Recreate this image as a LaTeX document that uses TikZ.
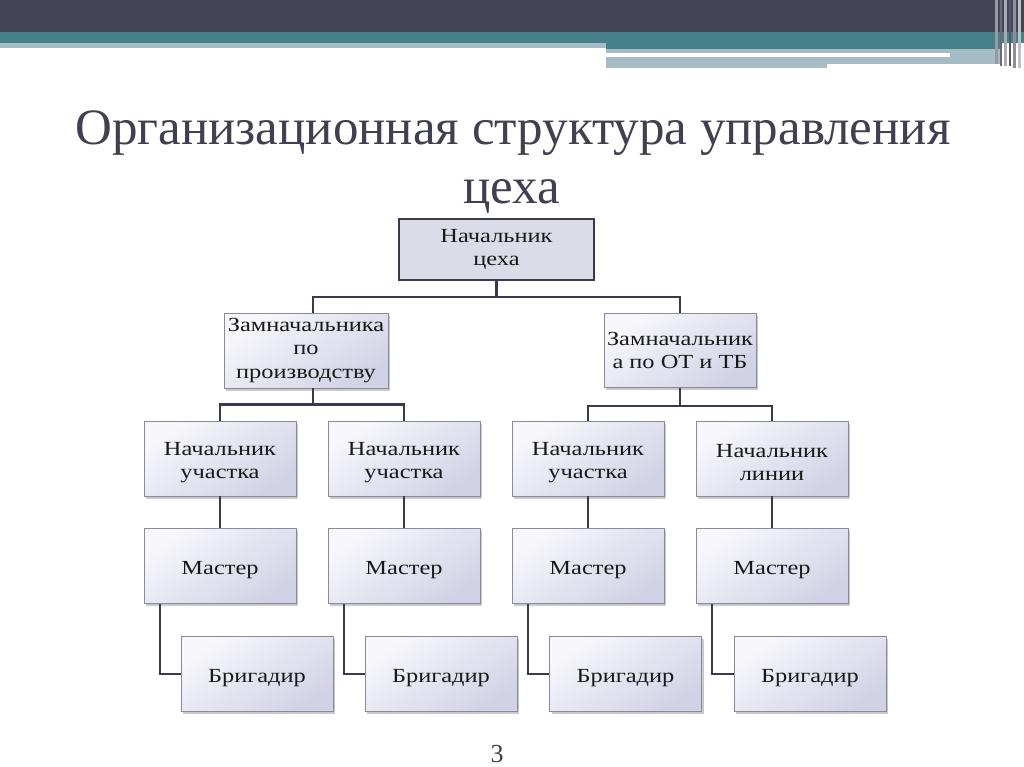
\documentclass[tikz,border=0pt]{standalone}
\usepackage{fontspec}
\setmainfont{Liberation Serif}
\newfontfamily\boxfont[FakeStretch=1.22]{Liberation Serif}
\usetikzlibrary{shadows}
\definecolor{hdark}{HTML}{45455A}
\definecolor{hteal}{HTML}{46808A}
\definecolor{hlight}{HTML}{A6BCC4}
\definecolor{titlec}{HTML}{404050}
\definecolor{linec}{HTML}{3A3A4E}
\definecolor{boxdraw}{HTML}{8A8A9C}
\definecolor{boxlight}{HTML}{F7F7FB}
\definecolor{boxdarkc}{HTML}{D2D2E6}
\definecolor{topfill}{HTML}{DCDCE8}
\newcommand{\mytopstrut}{\rule{0pt}{21pt}}
\tikzset{
  orgbox/.style={draw=boxdraw, line width=0.8pt, top color=boxlight, bottom color=boxdarkc, shading angle=35,
    drop shadow={shadow xshift=2pt, shadow yshift=-2.5pt, opacity=0.35, fill=black!60},
    align=center, inner sep=0pt, font=\boxfont\fontsize{20}{23.5}\selectfont, text=black!90},
  topbox/.style={draw=linec, line width=2.2pt, fill=topfill, align=center, inner sep=0pt,
    font=\boxfont\fontsize{20}{22.5}\selectfont, text=black!90},
  titletext/.style={font=\fontsize{51}{59}\selectfont, text=titlec, anchor=base},
  conn/.style={draw=linec, line width=2.5pt}
}
\begin{document}
\begin{tikzpicture}[x=1pt,y=-1pt]
\useasboundingbox (0,0) rectangle (1024,767);
\fill[white] (0,0) rectangle (1024,767);
% header
\fill[hdark] (0,0) rectangle (1024,32);
\fill[hteal] (0,32) rectangle (1024,43);
\fill[hteal] (606,43) rectangle (1000,49);
\fill[hlight] (0,43) rectangle (606,48);
\fill[hlight] (606,49) rectangle (1000,64);
\fill[hlight] (606,64) rectangle (827,68);
\fill[white] (606,53) rectangle (950,57);
\fill[hdark!55] (995,0) rectangle (998,64);
\fill[hdark!80] (1000,0) rectangle (1002,66);
\fill[hdark!45] (1004,0) rectangle (1007,66);
\fill[hdark!90] (1009,0) rectangle (1011,66);
\fill[hdark!60] (1013,0) rectangle (1016,68);
\fill[hdark!35] (1018,0) rectangle (1021,68);
% title
\node[titletext] (title1) at (513,145) {Организационная структура управления};
\node[titletext] (title2) at (512,204) {цеха};
% boxes
\node[topbox, minimum width=195pt, minimum height=61pt] (top) at (496.5,249.5) {Начальник\\цеха};
\node[orgbox, minimum width=164pt, minimum height=75pt] (z1) at (306,350.5) {Замначальника\\по\\производству};
\node[orgbox, minimum width=152pt, minimum height=74pt] (z2) at (680,350.5) {Замначальник\\а по ОТ и ТБ};
\foreach \n/\x/\t in {1/220/{Начальник\\участка},2/404/{Начальник\\участка},3/588/{Начальник\\участка},4/772/{Начальник\\линии}}{
  \node[orgbox, minimum width=152pt, minimum height=75pt] (r\n) at (\x,458.5) {\mytopstrut\t};
  \node[orgbox, minimum width=152pt, minimum height=75pt] (m\n) at (\x,566) {\mytopstrut Мастер};
}
\foreach \n/\x in {1/257,2/441,3/625.5,4/810}{
  \node[orgbox, minimum width=152pt, minimum height=75pt] (b\n) at (\x,674) {\mytopstrut Бригадир};
}
% connectors
\draw[conn] (top.south) -- ++(0,16) -| ([xshift=7pt]z1.north);
\draw[conn] (top.south) -- ++(0,16) -| (z2.north);
\draw[conn] ([xshift=7pt]z1.south) -- ++(0,16) -| (r1.north);
\draw[conn] ([xshift=7pt]z1.south) -- ++(0,16) -| (r2.north);
\draw[conn] (z2.south) -- ++(0,18) -| (r3.north);
\draw[conn] (z2.south) -- ++(0,18) -| (r4.north);
\foreach \n in {1,2,3,4}{
  \draw[conn] (r\n.south) -- (m\n.north);
  \draw[conn] ([xshift=-60pt]m\n.south) |- (b\n.west);
}
% page number
\node[font=\fontsize{26}{30}\selectfont, text=black!75] (pg) at (497,754) {3};
\end{tikzpicture}
\end{document}
